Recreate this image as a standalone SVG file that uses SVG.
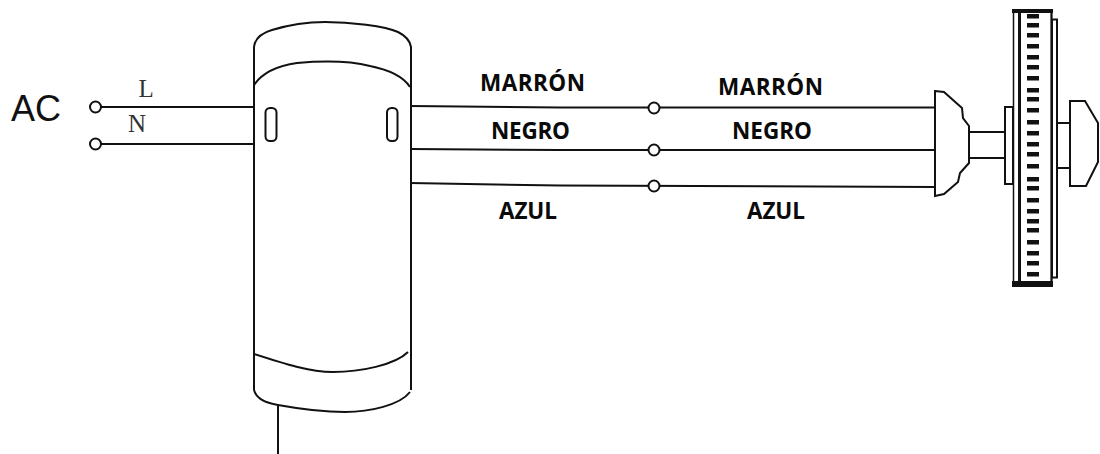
<svg xmlns="http://www.w3.org/2000/svg" width="1100" height="454" viewBox="0 0 1100 454">
<style>
.l{fill:none;stroke:#111;stroke-width:2}
.s{fill:#fff;stroke:#111;stroke-width:2}
.c{fill:#fff;stroke:#111;stroke-width:2}
.b{font-family:"Open Sans","Liberation Sans",sans-serif;font-weight:700;font-size:22.500px;fill:#0a0a0a}
.t{font-family:"Liberation Serif",serif;font-size:25px;fill:#333}
.d{fill:#111}
</style>
<rect width="1100" height="454" fill="#fff"/>
<g id="connectors">
<path class="l" d="M100 107H254M100 144H254"/>
<path class="l" d="M410 106L560 107.500H935M410 149L560 150H935M410 183L560 185.500L935 187"/>
<path class="l" d="M278 405V454"/>
</g>
<g id="ac-label"><text x="11" y="121" font-family="Liberation Sans,sans-serif" font-size="36" fill="#111">AC</text></g>
<g id="terminal-l"><circle class="c" cx="95.500" cy="107" r="5.500"/><text class="t" x="138.500" y="97">L</text></g>
<g id="terminal-n"><circle class="c" cx="95.500" cy="144" r="5.500"/><text class="t" x="128" y="132">N</text></g>
<g id="controller">
<path class="l" d="M254 390V47C255 38 262 33 272 30C285 26 300 22 325 22C350 22 385 26 398 32C406 36 410 40 411 47V390"/>
<path class="l" d="M254 85C262 73 276 66 297 63C320 61 350 61 370 66C390 70 403 76 410 87"/>
<path class="l" d="M254 354C285 364 310 372 333 372C360 372 395 365 408 352"/>
<path class="l" d="M254 390C256 398 266 403 278 405C300 409 325 412 345 412C370 412 400 405 410 392"/>
<rect class="l" x="265.500" y="108" width="11" height="33" rx="4.500"/>
<rect class="l" x="387" y="108" width="10.500" height="33" rx="4.500"/>
</g>
<g id="junction-1"><circle class="c" cx="654" cy="108" r="5.500"/></g>
<g id="junction-2"><circle class="c" cx="654" cy="150" r="5.500"/></g>
<g id="junction-3"><circle class="c" cx="654" cy="186" r="5.500"/></g>
<g id="labels-left">
<text class="b" x="480" y="91" textLength="105">MARRÓN</text>
<text class="b" x="491" y="139" textLength="79">NEGRO</text>
<text class="b" x="499" y="219" textLength="58">AZUL</text>
</g>
<g id="labels-right">
<text class="b" x="718" y="95" textLength="105">MARRÓN</text>
<text class="b" x="732" y="139" textLength="80">NEGRO</text>
<text class="b" x="747" y="219" textLength="58">AZUL</text>
</g>
<g id="fan">
<path class="l" d="M969 132H1005M969 158H1005M1057 123H1070M1057 168H1070"/>
<path class="s" d="M935 91L944 92L962 108L963 118L969 126V163L960 173L958 182L944 194L935 196Z"/>
<rect class="s" x="1005" y="107" width="8" height="77"/>
<rect class="s" x="1052" y="19.500" width="5" height="258"/>
<rect x="1013.500" y="10" width="38" height="276" fill="#fff" stroke="#111" stroke-width="1.500"/>
<rect class="d" x="1012" y="9" width="41" height="4"/>
<rect class="d" x="1012" y="281" width="41" height="6"/>
<rect class="d" x="1018" y="10" width="3" height="276"/>
<rect class="d" x="1050.500" y="10" width="2" height="276"/>
<g class="d">
<rect x="1027" y="14" width="12" height="4.500"/><rect x="1027" y="23" width="12" height="4.500"/><rect x="1027" y="33" width="12" height="4.500"/><rect x="1027" y="44" width="12" height="4.500"/><rect x="1027" y="55" width="12" height="4.500"/><rect x="1027" y="65" width="12" height="4.500"/><rect x="1027" y="76" width="12" height="4.500"/><rect x="1027" y="88" width="12" height="4.500"/><rect x="1027" y="97" width="12" height="4.500"/><rect x="1027" y="108" width="12" height="4.500"/><rect x="1027" y="120" width="12" height="4.500"/><rect x="1027" y="131" width="12" height="4.500"/><rect x="1027" y="142" width="12" height="4.500"/><rect x="1027" y="152" width="12" height="4.500"/><rect x="1027" y="164" width="12" height="4.500"/><rect x="1027" y="177" width="12" height="4.500"/><rect x="1027" y="186" width="12" height="4.500"/><rect x="1027" y="198" width="12" height="4.500"/><rect x="1027" y="209" width="12" height="4.500"/><rect x="1027" y="219" width="12" height="4.500"/><rect x="1027" y="228" width="12" height="4.500"/><rect x="1027" y="240" width="12" height="4.500"/><rect x="1027" y="251" width="12" height="4.500"/><rect x="1027" y="261" width="12" height="4.500"/><rect x="1027" y="272" width="12" height="4.500"/>
</g>
<path class="s" d="M1070 101H1085L1098 123V162L1086 186H1070Z"/>
</g>
</svg>
